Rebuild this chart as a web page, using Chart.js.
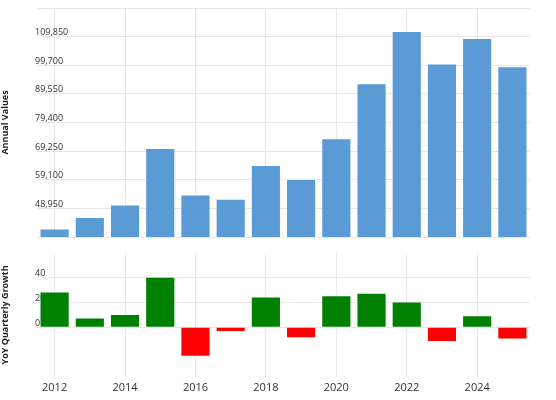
<!DOCTYPE html><html><head><script src="https://cdn.jsdelivr.net/npm/chart.js"></script>
<style>body{margin:0;background:#fff}#a{position:absolute;left:0;top:0;width:556px;height:245px}#b{position:absolute;left:0;top:245px;width:556px;height:155px}</style></head><body>
<div id="a"><canvas id="c1"></canvas></div><div id="b"><canvas id="c2"></canvas></div>
<script>
const years=[2012,2013,2014,2015,2016,2017,2018,2019,2020,2021,2022,2023,2024,2025];
const annual=[41500,45500,50000,70000,53500,52000,64000,59000,73500,93000,111500,100000,109000,99000];
const growth=[28,7,10,40,-23,-3,24,-8,25,27,20,-11,9,-9];
const font='"Open Sans", Verdana, sans-serif';
Chart.defaults.font.family=font;Chart.defaults.animation=false;
const xgrid={offset:false,color:c=>(years[c.index]%2===0?'#e6e6e6':'rgba(0,0,0,0)'),drawTicks:false};
const fit=s=>{s.width=37;};
new Chart(c1,{type:'bar',data:{labels:years,datasets:[{data:annual,backgroundColor:'#5b9bd5',barPercentage:0.8,categoryPercentage:1}]},
options:{responsive:true,maintainAspectRatio:false,layout:{padding:{top:8,right:26,bottom:8}},plugins:{legend:{display:false},tooltip:{enabled:false}},
scales:{x:{grid:xgrid,ticks:{display:false},border:{display:false}},
y:{min:38800,max:120000,afterFit:fit,border:{display:false},grid:{color:'#e6e6e6',borderDash:[4,4],drawTicks:false},
ticks:{mirror:true,stepSize:10000,padding:-2,color:'#333',font:{size:9},labelOffset:-4,callback:v=>v>=40000&&v<=110000?v.toLocaleString('en-US'):''},
title:{display:true,text:'Annual Values',color:'#222',font:{size:9,weight:'bold'},padding:0}}}}});
new Chart(c2,{type:'bar',data:{labels:years,datasets:[{data:growth,backgroundColor:growth.map(v=>v>=0?'#008000':'#ff0000'),barPercentage:0.8,categoryPercentage:1}]},
options:{responsive:true,maintainAspectRatio:false,layout:{padding:{top:8,right:26,bottom:2}},plugins:{legend:{display:false},tooltip:{enabled:false}},
scales:{x:{grid:xgrid,border:{display:false},ticks:{color:'#333',font:{size:11},padding:4,maxRotation:0,autoSkip:false,callback:(v,i)=>years[i]%2===0?years[i]:''}},
y:{min:-40,max:60,afterFit:fit,border:{display:false},grid:{color:c=>c.tick&&c.tick.value>=0&&c.tick.value<=40?'#e6e6e6':'rgba(0,0,0,0)',borderDash:[4,4],drawTicks:false},
ticks:{mirror:true,stepSize:20,padding:-2,color:'#333',font:{size:9},labelOffset:-4,callback:v=>v>=0&&v<=40?v:''},
title:{display:true,text:'YoY Quarterly Growth',color:'#222',font:{size:9,weight:'bold'},padding:0}}}}});
</script></body></html>
